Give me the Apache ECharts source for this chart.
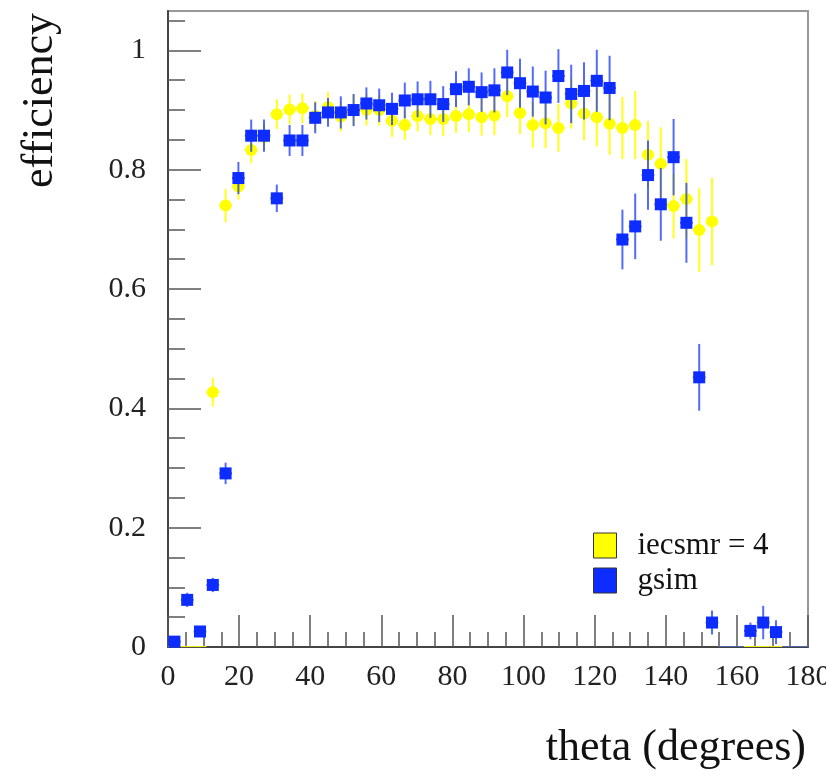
<!DOCTYPE html>
<html><head><meta charset="utf-8">
<script src="https://cdn.jsdelivr.net/npm/echarts@6/dist/echarts.min.js"></script>
<style>html,body{margin:0;padding:0;background:#fff}#c{width:826px;height:774px}</style>
</head><body><div id="c"></div>
<script>
// bin centres (degrees)
const theta = [1.8,5.4,9.0,12.6,16.2,19.8,23.4,27.0,30.6,34.2,37.8,41.4,45.0,48.6,52.2,55.8,59.4,63.0,66.6,70.2,
  73.8,77.4,81.0,84.6,88.2,91.8,95.4,99.0,102.6,106.2,109.8,113.4,117.0,120.6,124.2,127.8,131.4,135.0,138.6,142.2,
  145.8,149.4,153.0,156.6,160.2,163.8,167.4,171.0,174.6,178.2];
const binHalfWidth = 1.8;

const gsim = [0.009,0.079,0.026,0.104,0.291,0.786,0.857,0.857,0.752,0.849,0.849,0.887,0.896,0.896,0.900,0.911,0.908,0.902,0.916,0.918,
  0.918,0.910,0.935,0.939,0.930,0.933,0.963,0.945,0.931,0.921,0.957,0.927,0.932,0.949,0.937,0.683,0.705,0.791,0.742,0.821,
  0.711,0.452,0.041,0,0,0.027,0.041,0.025,0,0];
const gsimErr = [0.005,0.012,0.006,0.012,0.018,0.027,0.027,0.027,0.023,0.026,0.026,0.026,0.024,0.027,0.027,0.027,0.028,0.027,0.030,0.030,
  0.031,0.030,0.030,0.031,0.033,0.037,0.038,0.041,0.042,0.045,0.045,0.049,0.048,0.052,0.054,0.050,0.055,0.058,0.061,0.064,
  0.067,0.056,0.020,0,0,0.014,0.028,0.020,0,0];

const iecsmr = [0,0,0,0.427,0.740,0.772,0.833,0.855,0.893,0.901,0.903,0.890,0.905,0.889,0.900,0.900,0.900,0.882,0.875,0.890,
  0.885,0.885,0.890,0.893,0.888,0.891,0.923,0.895,0.875,0.878,0.870,0.911,0.894,0.888,0.877,0.870,0.875,0.825,0.810,0.739,
  0.751,0.699,0.713,0,0,0,0,0,0,0];
const iecsmrErr = [0,0,0,0.024,0.028,0.022,0.022,0.023,0.025,0.025,0.025,0.025,0.025,0.025,0.026,0.026,0.026,0.027,0.025,0.026,
  0.027,0.029,0.028,0.030,0.031,0.033,0.035,0.035,0.038,0.042,0.040,0.042,0.045,0.049,0.052,0.052,0.057,0.057,0.061,0.054,
  0.067,0.070,0.073,0,0,0,0,0,0,0];

const xLabels = [0,20,40,60,80,100,120,140,160,180];
const yMajorTicks = [0,0.2,0.4,0.6,0.8,1.0];
const yMinorTicks = [0.05,0.1,0.15,0.25,0.3,0.35,0.45,0.5,0.55,0.65,0.7,0.75,0.85,0.9,0.95,1.05];

const FONT = "'Liberation Serif','DejaVu Serif',serif";
const BLUE = '#0d2cff', YELLOW = '#ffff00';

function errRender(color, opacity){
  return function(params, api){
    const x = api.value(0), y = api.value(1), e = api.value(2);
    const c = api.coord([x, y]);
    const top = api.coord([x, y + e]);
    const bot = api.coord([x, y - e]);
    const l = api.coord([x - binHalfWidth, y]);
    const r = api.coord([x + binHalfWidth, y]);
    const style = {stroke: color, lineWidth: 2, opacity: opacity};
    return {type: 'group', children: [
      {type: 'line', shape: {x1: c[0], y1: top[1], x2: c[0], y2: bot[1]}, style: style},
      {type: 'line', shape: {x1: l[0], y1: c[1], x2: r[0], y2: c[1]}, style: style}
    ]};
  };
}
const errData = (v, e) => theta.map((t, i) => [t, v[i], e[i]]);
const ptData = (v) => theta.map((t, i) => [t, v[i]]).filter(d => d[1] > 0);

const chart = echarts.init(document.getElementById('c'), null, {renderer: 'canvas'});
chart.setOption({
  animation: false,
  backgroundColor: '#fff',
  grid: {left: 168, right: 18, top: 11, bottom: 127, show: true, borderColor: '#999', borderWidth: 2,
    containLabel: false, outerBoundsMode: 'none'},
  xAxis: {
    type: 'value', min: 0, max: 180, interval: 20,
    axisLine: {show: true, onZero: false, lineStyle: {color: '#444', width: 2}},
    axisTick: {show: true, inside: true, length: 32, lineStyle: {color: '#555', width: 1.5}},
    minorTick: {show: true, splitNumber: 4, length: 15, lineStyle: {color: '#555', width: 1.5}},
    axisLabel: {fontSize: 30, fontFamily: FONT, color: '#222', margin: 15,
      customValues: xLabels},
    splitLine: {show: false}
  },
  yAxis: [{
    type: 'value', min: 0, max: 1.066,
    axisLine: {show: true, onZero: false, lineStyle: {color: '#444', width: 2}},
    axisTick: {show: true, inside: true, length: 33, customValues: yMajorTicks, lineStyle: {color: '#555', width: 1.5}},
    axisLabel: {customValues: yMajorTicks, fontSize: 30, fontFamily: FONT, color: '#222', margin: 22},
    splitLine: {show: false}
  }, {
    type: 'value', min: 0, max: 1.066, position: 'left',
    axisLine: {show: false},
    axisTick: {show: true, inside: true, length: 17, customValues: yMinorTicks, lineStyle: {color: '#555', width: 1.5}},
    axisLabel: {show: false},
    splitLine: {show: false}
  }],
  legend: {
    orient: 'vertical', left: 593, top: 530, padding: 0,
    itemWidth: 23, itemHeight: 25, itemGap: 4, icon: 'rect',
    itemStyle: {borderColor: '#333', borderWidth: 1},
    textStyle: {fontSize: 31, fontFamily: FONT, color: '#111', padding: [0, 0, 0, 16]},
    data: ['iecsmr = 4', 'gsim']
  },
  graphic: [
    {type: 'text', x: 806, y: 748, style: {text: 'theta (degrees)', font: "44px 'Liberation Serif'", fill: '#111', textAlign: 'right', textVerticalAlign: 'middle'}},
    {type: 'text', x: 40, y: 13, rotation: Math.PI / 2, style: {text: 'efficiency', font: "44px 'Liberation Serif'", fill: '#111', textAlign: 'right', textVerticalAlign: 'middle'}}
  ],
  series: [
    {type: 'custom', name: 'iecsmr err', renderItem: errRender(YELLOW, 0.9), data: errData(iecsmr, iecsmrErr), clip: true, z: 2, silent: true},
    {type: 'scatter', name: 'iecsmr = 4', symbol: 'circle', symbolSize: 12, itemStyle: {color: YELLOW, opacity: 1}, data: ptData(iecsmr), clip: true, z: 3},
    {type: 'custom', name: 'gsim err', renderItem: errRender(BLUE, 0.7), data: errData(gsim, gsimErr), clip: true, z: 4, silent: true},
    {type: 'scatter', name: 'gsim', symbol: 'rect', symbolSize: 12, itemStyle: {color: BLUE, opacity: 1}, data: ptData(gsim), clip: true, z: 5}
  ]
});
</script>
</body></html>
